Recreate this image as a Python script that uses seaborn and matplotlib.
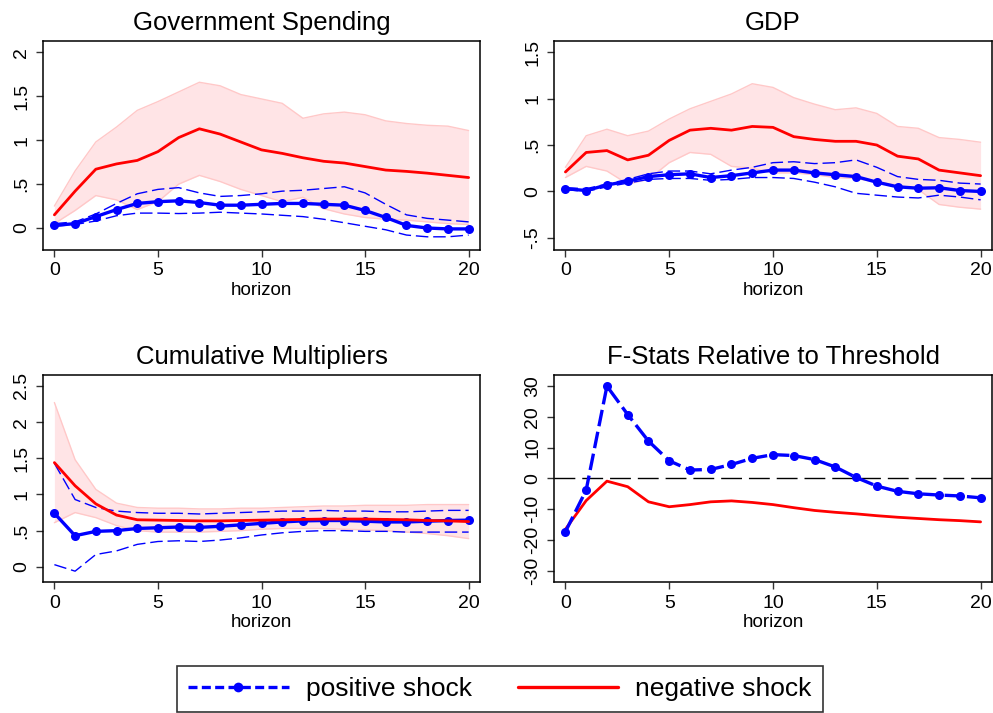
import matplotlib
matplotlib.use("Agg")
import matplotlib.pyplot as plt
from matplotlib.lines import Line2D
import seaborn as sns

# horizon 0..20
horizon = list(range(21))

# --- Government Spending ---
gov_pos = [0.03, 0.05, 0.13, 0.21, 0.28, 0.30, 0.31, 0.29, 0.26, 0.26, 0.27,
           0.28, 0.28, 0.27, 0.26, 0.20, 0.12, 0.03, 0.00, -0.01, -0.01]
gov_pos_hi = [0.05, 0.07, 0.16, 0.28, 0.39, 0.44, 0.46, 0.40, 0.36, 0.37, 0.39,
              0.42, 0.43, 0.45, 0.47, 0.40, 0.27, 0.15, 0.11, 0.09, 0.07]
gov_pos_lo = [0.02, 0.04, 0.08, 0.14, 0.17, 0.17, 0.165, 0.17, 0.18, 0.17, 0.16,
              0.145, 0.13, 0.10, 0.06, 0.02, -0.02, -0.08, -0.10, -0.10, -0.08]
gov_neg = [0.15, 0.42, 0.67, 0.73, 0.77, 0.87, 1.03, 1.13, 1.07, 0.98, 0.89,
           0.85, 0.80, 0.76, 0.74, 0.70, 0.66, 0.645, 0.625, 0.60, 0.575]
gov_neg_hi = [0.25, 0.65, 0.98, 1.15, 1.34, 1.44, 1.55, 1.66, 1.62, 1.52, 1.47,
              1.42, 1.25, 1.30, 1.32, 1.29, 1.22, 1.19, 1.17, 1.16, 1.11]
gov_neg_lo = [0.05, 0.20, 0.37, 0.32, 0.21, 0.30, 0.50, 0.60, 0.53, 0.44, 0.37,
              0.30, 0.35, 0.22, 0.16, 0.12, 0.10, 0.09, 0.07, 0.05, 0.04]

# --- GDP ---
gdp_pos = [0.03, 0.01, 0.07, 0.11, 0.16, 0.18, 0.19, 0.15, 0.17, 0.20, 0.23,
           0.23, 0.20, 0.18, 0.16, 0.10, 0.05, 0.035, 0.04, 0.01, 0.00]
gdp_pos_hi = [0.04, 0.03, 0.08, 0.13, 0.19, 0.22, 0.22, 0.19, 0.23, 0.26, 0.31,
              0.32, 0.30, 0.31, 0.34, 0.26, 0.16, 0.13, 0.12, 0.09, 0.08]
gdp_pos_lo = [0.02, 0.00, 0.05, 0.09, 0.13, 0.14, 0.14, 0.12, 0.13, 0.15, 0.15,
              0.14, 0.10, 0.05, -0.02, -0.04, -0.06, -0.07, -0.04, -0.06, -0.09]
gdp_neg = [0.21, 0.42, 0.44, 0.34, 0.39, 0.55, 0.66, 0.68, 0.66, 0.70, 0.69,
           0.59, 0.56, 0.54, 0.54, 0.50, 0.38, 0.35, 0.23, 0.20, 0.17]
gdp_neg_hi = [0.26, 0.60, 0.67, 0.60, 0.65, 0.78, 0.89, 0.97, 1.05, 1.16, 1.12,
              1.01, 0.94, 0.88, 0.90, 0.84, 0.70, 0.68, 0.58, 0.56, 0.53]
gdp_neg_lo = [0.15, 0.27, 0.22, 0.08, 0.13, 0.31, 0.42, 0.40, 0.27, 0.25, 0.20,
              0.20, 0.18, 0.15, 0.14, 0.10, 0.07, 0.02, -0.14, -0.17, -0.19]

# --- Cumulative Multipliers ---
mult_pos = [0.74, 0.43, 0.49, 0.50, 0.53, 0.54, 0.55, 0.545, 0.56, 0.58, 0.60,
            0.62, 0.635, 0.64, 0.64, 0.63, 0.62, 0.62, 0.63, 0.64, 0.645]
mult_pos_hi = [1.43, 0.93, 0.82, 0.77, 0.75, 0.74, 0.74, 0.73, 0.74, 0.75, 0.76,
               0.77, 0.77, 0.78, 0.77, 0.77, 0.76, 0.76, 0.77, 0.78, 0.78]
mult_pos_lo = [0.03, -0.06, 0.17, 0.22, 0.31, 0.35, 0.36, 0.35, 0.37, 0.40, 0.44,
               0.47, 0.49, 0.50, 0.50, 0.49, 0.49, 0.48, 0.48, 0.48, 0.48]
mult_neg = [1.44, 1.12, 0.87, 0.715, 0.65, 0.645, 0.64, 0.635, 0.635, 0.64, 0.645,
            0.65, 0.655, 0.66, 0.66, 0.66, 0.655, 0.65, 0.64, 0.635, 0.625]
mult_neg_hi = [2.27, 1.48, 1.07, 0.88, 0.82, 0.81, 0.81, 0.80, 0.80, 0.81, 0.81,
               0.82, 0.83, 0.84, 0.84, 0.85, 0.85, 0.85, 0.86, 0.86, 0.86]
mult_neg_lo = [0.61, 0.75, 0.68, 0.57, 0.50, 0.48, 0.48, 0.48, 0.49, 0.50, 0.52,
               0.53, 0.53, 0.53, 0.52, 0.51, 0.50, 0.48, 0.46, 0.43, 0.39]

# --- F-Stats relative to threshold ---
fstat_pos = [-17.3, -3.8, 29.9, 20.7, 12.1, 5.7, 2.7, 2.9, 4.5, 6.5, 7.7,
             7.4, 6.1, 3.7, 0.3, -2.5, -4.2, -5.0, -5.4, -5.7, -6.3]
fstat_neg = [-16.5, -7.2, -0.9, -2.7, -7.6, -9.2, -8.5, -7.6, -7.3, -7.8, -8.5,
             -9.5, -10.4, -11.0, -11.5, -12.1, -12.6, -13.0, -13.4, -13.7, -14.1]

BLUE = "#0000ff"
RED = "#ff0000"
BAND = "#ffe4e6"
BAND_EDGE = "#ffc8c8"

sns.set_style("ticks")
plt.rcParams['font.family'] = ['Liberation Sans', 'DejaVu Sans']
plt.rcParams['axes.unicode_minus'] = False
for key in ["text.color", "axes.labelcolor", "xtick.labelcolor", "ytick.labelcolor"]:
    plt.rcParams[key] = "black"


def stata_fmt(v):
    s = f"{v:g}"
    if v != 0 and abs(v) < 1:
        s = s.replace("0.", ".")
    return s


def style_axis(ax, title, ylim, yticks):
    ax.set_xlim(-0.55, 20.55)
    ax.set_ylim(*ylim)
    ax.set_xticks([0, 5, 10, 15, 20])
    ax.set_yticks(yticks, [stata_fmt(v) for v in yticks], rotation=90, va="center")
    ax.tick_params(axis="both", direction="out", length=5, width=1,
                   color="#333333", labelcolor="black", labelsize=14, pad=4)
    ax.set_title(title, fontsize=18.5, pad=8, color="black")
    ax.set_xlabel("horizon", fontsize=13.5, labelpad=2, color="black")
    ax.set_ylabel("")
    for sp in ax.spines.values():
        sp.set_visible(True)
        sp.set_color("black")
        sp.set_linewidth(1.1)


def irf_panel(ax, pos, pos_lo, pos_hi, neg, neg_lo, neg_hi):
    ax.fill_between(horizon, neg_lo, neg_hi, color=BAND, linewidth=0, zorder=1)
    sns.lineplot(x=horizon, y=neg_hi, ax=ax, color=BAND_EDGE, linewidth=1.0, zorder=1.5)
    sns.lineplot(x=horizon, y=neg_lo, ax=ax, color=BAND_EDGE, linewidth=1.0, zorder=1.5)
    sns.lineplot(x=horizon, y=pos_hi, ax=ax, color=BLUE, linewidth=1.0,
                 linestyle=(0, (9, 3.5)), zorder=2)
    sns.lineplot(x=horizon, y=pos_lo, ax=ax, color=BLUE, linewidth=1.0,
                 linestyle=(0, (9, 3.5)), zorder=2)
    sns.lineplot(x=horizon, y=pos, ax=ax, color=BLUE, linewidth=2.4,
                 marker="o", markersize=6.5, markeredgewidth=0, zorder=3)
    sns.lineplot(x=horizon, y=neg, ax=ax, color=RED, linewidth=2.0, zorder=4)


fig = plt.figure(figsize=(9.93, 7.13), dpi=100)
ax1 = fig.add_axes([0.0433, 0.6494, 0.4401, 0.2931])
ax2 = fig.add_axes([0.5579, 0.6494, 0.4411, 0.2931])
ax3 = fig.add_axes([0.0433, 0.1837, 0.4401, 0.2903])
ax4 = fig.add_axes([0.5579, 0.1837, 0.4411, 0.2903])

irf_panel(ax1, gov_pos, gov_pos_lo, gov_pos_hi, gov_neg, gov_neg_lo, gov_neg_hi)
style_axis(ax1, "Government Spending", (-0.25, 2.13), [0, 0.5, 1, 1.5, 2])

irf_panel(ax2, gdp_pos, gdp_pos_lo, gdp_pos_hi, gdp_neg, gdp_neg_lo, gdp_neg_hi)
style_axis(ax2, "GDP", (-0.63, 1.62), [-0.5, 0, 0.5, 1, 1.5])

irf_panel(ax3, mult_pos, mult_pos_lo, mult_pos_hi, mult_neg, mult_neg_lo, mult_neg_hi)
style_axis(ax3, "Cumulative Multipliers", (-0.21, 2.65), [0, 0.5, 1, 1.5, 2, 2.5])

ax4.axhline(0, color="black", linewidth=1.0, linestyle=(0, (15, 5)), zorder=1)
sns.lineplot(x=horizon, y=fstat_neg, ax=ax4, color=RED, linewidth=2.0, zorder=2)
sns.lineplot(x=horizon, y=fstat_pos, ax=ax4, color=BLUE, linewidth=2.4,
             linestyle=(0, (5, 1.7)), marker="o", markersize=6.5,
             markeredgewidth=0, zorder=3)
style_axis(ax4, "F-Stats Relative to Threshold", (-33.6, 33.5),
           [-30, -20, -10, 0, 10, 20, 30])

handles = [
    Line2D([], [], color=BLUE, linewidth=2.4, linestyle=(0, (2.7, 1.3)),
           marker="o", markersize=7, markeredgewidth=0),
    Line2D([], [], color=RED, linewidth=2.4),
]
leg = fig.legend(handles, ["positive shock", "negative shock"], ncol=2,
                 loc="upper center", bbox_to_anchor=(0.5035, 1 - 666 / 713),
                 fontsize=19, frameon=True, fancybox=False, edgecolor="black",
                 borderpad=0.42, handlelength=3.8, handletextpad=0.65,
                 columnspacing=1.75, numpoints=1, borderaxespad=0)
leg.get_frame().set_linewidth(1.2)
for t in leg.get_texts():
    t.set_color("black")

fig.savefig("out.png", dpi=100)
